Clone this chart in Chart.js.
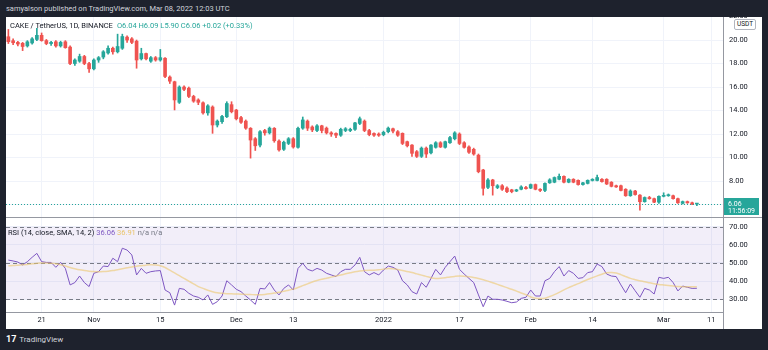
<!DOCTYPE html>
<html>
<head>
<meta charset="utf-8">
<script src="https://cdn.jsdelivr.net/npm/chart.js@4.4.1/dist/chart.umd.min.js"></script>
<style>
  html, body { margin: 0; padding: 0; }
  body { width: 768px; height: 350px; background: #1e222d; position: relative; overflow: hidden; font-family: Roboto, "Noto Sans", sans-serif; }
  .abs { position: absolute; white-space: nowrap; }
  #panel { left: 6px; top: 17px; width: 756px; height: 312px; background: #fff; }
  #header { left: 6px; top: 4px; font-size: 7.5px; color: #d1d4dc; }
  #legend { left: 10px; top: 20.5px; font-size: 7.5px; color: #131722; }
  #legend .v { color: #26a69a; margin-left: 4px; }
  #rsiLegend { left: 8px; top: 228px; font-size: 7.5px; line-height: 9px; color: #131722; }
  #usdt { left: 734px; top: 19px; font-size: 6.5px; color: #131722; border: 1px solid #b2b5be; border-radius: 2px; padding: 0 2px; line-height: 9px; background: #fff; }
  #sep { left: 6px; top: 217px; width: 756px; height: 1px; background: #9598a1; }
  #axisLine { left: 723px; top: 312px; width: 1px; height: 17px; background: #9598a1; }
  #logo { left: 6px; top: 334px; font-size: 8px; color: #d1d4dc; }
  #logo b { font-size: 9px; color: #fff; margin-right: 3px; }
</style>
</head>
<body>
<div id="panel" class="abs"></div>
<div id="header" class="abs">samyalson published on TradingView.com, Mar 08, 2022 12:03 UTC</div>
<canvas id="price" class="abs" width="756" height="200" style="left:6px;top:17px"></canvas>
<canvas id="rsi" class="abs" width="756" height="112" style="left:6px;top:217px"></canvas>
<div id="sep" class="abs"></div>
<div id="axisLine" class="abs"></div>
<div id="legend" class="abs">CAKE / TetherUS, 1D, BINANCE<span class="v">O6.04 H6.09 L5.90 C6.06 +0.02 (+0.33%)</span></div>
<div id="rsiLegend" class="abs">RSI (14, close, SMA, 14, 2) <span style="color:#7e57c2">36.06</span> <span style="color:#e9c46a">36.91</span> <span style="color:#787b86">n/a n/a</span></div>
<div id="usdt" class="abs">USDT</div>
<div id="logo" class="abs"><b>17</b>TradingView</div>
<script>
// дни от 14 окт 2021 до 13 мар 2022 (последняя свеча — 8 марта)
const startDay = new Date(Date.UTC(2021, 9, 14));
const dayCount = 151;
const days = [];
for (let i = 0; i < dayCount; i++) {
  const d = new Date(startDay.getTime() + i * 86400000);
  days.push(d.toISOString().slice(0, 10));
}

// подписи оси времени
const tickDates = ['2021-10-21', '2021-11-01', '2021-11-15', '2021-12-01', '2021-12-13', '2022-01-01', '2022-01-17', '2022-02-01', '2022-02-14', '2022-03-01', '2022-03-11'];
const tickTexts = ['21', 'Nov', '15', 'Dec', '13', '2022', '17', 'Feb', '14', 'Mar', '11'];
const priceTicks = [6, 8, 10, 12, 14, 16, 18, 20, 22];
const rsiTicks = [30, 40, 50, 60, 70];

// свечи CAKE/USDT
const opens = [20.28, 19.94, 19.8, 19.72, 19.5, 19.75, 20.05, 20.4, 19.95, 19.7,
  19.85, 19.5, 19.85, 19.4, 18.0, 18.2, 18.6, 18.0, 17.55, 18.3,
  18.55, 18.9, 19.3, 19.0, 19.3, 20.25, 20.1, 19.9, 18.4, 18.85,
  18.2, 18.5, 18.3, 18.45, 16.85, 16.45, 14.7, 16.0, 15.9, 15.2,
  14.9, 14.66, 13.8, 14.3, 12.77, 13.05, 13.47, 14.5, 14.04, 13.4,
  13.1, 12.49, 11.6, 11.06, 12.3, 12.1, 12.49, 11.4, 10.7, 11.2,
  11.6, 10.87, 12.5, 13.1, 12.6, 12.3, 12.7, 12.5, 12.1, 12.05,
  11.9, 12.3, 12.3, 12.4, 12.9, 13.1, 12.3, 12.05, 12.0, 11.95,
  12.2, 12.45, 12.2, 12.06, 11.35, 11.06, 10.5, 10.1, 10.8, 10.4,
  10.87, 11.26, 10.87, 11.26, 11.6, 12.0, 11.26, 10.9, 10.7, 10.2,
  8.94, 7.46, 8.09, 7.45, 7.6, 7.4, 7.25, 7.15, 7.3, 7.45,
  7.4, 7.7, 7.3, 7.2, 7.85, 7.9, 8.15, 8.4, 7.9, 8.15,
  8.06, 7.7, 7.8, 8.05, 8.05, 8.15, 8.15, 7.9, 7.6, 7.6,
  7.3, 6.75, 7.15, 6.8, 6.24, 6.6, 6.5, 6.2, 6.7, 6.75,
  6.75, 6.5, 6.1, 6.25, 6.15, 6.04];
const highs = [20.9, 20.1, 19.9, 19.8, 19.95, 20.2, 21.0, 20.6, 20.05, 19.9,
  19.95, 19.9, 19.95, 19.5, 18.4, 18.8, 18.7, 18.1, 18.4, 18.6,
  19.1, 19.5, 19.4, 20.5, 20.5, 20.35, 20.2, 20.0, 19.3, 18.9,
  18.6, 18.6, 19.2, 18.5, 16.95, 16.5, 16.1, 16.1, 16.0, 15.3,
  15.0, 14.75, 14.5, 14.4, 13.2, 13.6, 14.75, 14.75, 14.1, 13.5,
  13.2, 12.55, 11.7, 12.3, 12.4, 12.6, 12.55, 11.5, 11.4, 11.7,
  11.7, 12.6, 13.45, 13.2, 12.7, 12.8, 12.75, 12.6, 12.2, 12.1,
  12.5, 12.55, 12.5, 13.0, 13.45, 13.2, 12.4, 12.1, 12.1, 12.25,
  12.6, 12.5, 12.3, 12.1, 11.4, 11.1, 10.6, 10.9, 10.9, 11.1,
  11.35, 11.35, 11.4, 11.8, 12.2, 12.1, 11.35, 11.0, 10.8, 10.3,
  9.0, 8.2, 8.15, 7.7, 7.7, 7.5, 7.3, 7.3, 7.6, 7.55,
  7.75, 7.75, 7.35, 7.85, 8.2, 8.35, 8.6, 8.45, 8.2, 8.2,
  8.1, 7.9, 8.1, 8.2, 8.5, 8.2, 8.2, 7.95, 7.65, 7.65,
  7.35, 7.25, 7.2, 6.85, 6.65, 6.7, 6.55, 6.75, 7.0, 6.9,
  6.8, 6.55, 6.3, 6.3, 6.2, 6.09];
const lows = [19.7, 19.6, 19.5, 19.1, 19.4, 19.65, 19.95, 19.9, 19.6, 19.55,
  19.4, 19.4, 19.3, 17.9, 17.85, 18.1, 17.9, 17.25, 17.45, 18.1,
  18.4, 18.8, 18.8, 18.9, 19.2, 19.8, 19.7, 17.6, 18.3, 18.3,
  18.1, 18.2, 18.2, 16.8, 16.3, 14.05, 14.6, 15.7, 15.1, 14.7,
  14.5, 13.7, 13.6, 12.06, 12.6, 12.9, 13.4, 13.8, 13.2, 12.9,
  12.4, 9.95, 10.6, 10.9, 11.9, 12.0, 11.3, 10.55, 10.6, 11.1,
  10.8, 10.8, 12.4, 12.3, 12.2, 12.2, 12.1, 12.0, 11.8, 11.7,
  11.8, 12.2, 12.2, 12.3, 12.8, 12.2, 11.85, 11.8, 11.8, 11.85,
  12.1, 12.1, 11.8, 11.1, 10.9, 10.1, 10.0, 10.0, 10.0, 10.3,
  10.8, 10.85, 10.8, 11.2, 11.5, 11.1, 10.8, 10.35, 10.2, 8.7,
  6.8, 7.35, 6.8, 7.35, 7.2, 7.0, 7.0, 7.1, 7.25, 7.3,
  7.35, 7.25, 7.1, 7.1, 7.8, 7.85, 8.1, 7.85, 7.85, 7.85,
  7.65, 7.65, 7.75, 8.0, 8.0, 7.9, 7.7, 7.5, 7.45, 7.15,
  6.7, 6.7, 6.8, 5.53, 6.2, 6.45, 6.15, 6.1, 6.65, 6.7,
  6.45, 6.1, 6.05, 6.1, 5.98, 5.90];
const closes = [19.86, 19.77, 19.66, 19.45, 19.85, 20.1, 20.4, 19.95, 19.7, 19.8,
  19.5, 19.8, 19.35, 18.0, 18.3, 18.6, 18.0, 17.55, 18.3, 18.5,
  19.0, 19.3, 19.0, 19.45, 20.3, 20.0, 19.8, 18.3, 18.85, 18.4,
  18.5, 18.3, 18.5, 16.9, 16.5, 14.9, 16.0, 15.8, 15.2, 14.8,
  14.7, 13.8, 14.4, 12.77, 13.1, 13.5, 14.6, 13.9, 13.3, 13.0,
  12.5, 11.49, 11.0, 12.2, 12.1, 12.5, 11.43, 10.65, 11.3, 11.6,
  10.9, 12.49, 13.2, 12.5, 12.35, 12.7, 12.3, 12.1, 12.0, 11.9,
  12.4, 12.45, 12.4, 12.95, 13.3, 12.3, 11.95, 11.9, 11.9, 12.15,
  12.5, 12.25, 11.9, 11.2, 11.0, 10.36, 10.1, 10.8, 10.3, 11.06,
  11.26, 10.9, 11.35, 11.7, 12.1, 11.2, 10.87, 10.45, 10.3, 8.8,
  7.38, 8.09, 7.6, 7.6, 7.3, 7.1, 7.1, 7.25, 7.5, 7.35,
  7.7, 7.3, 7.2, 7.8, 8.1, 8.3, 8.4, 7.9, 8.15, 7.9,
  7.7, 7.85, 8.06, 8.15, 8.3, 7.95, 7.75, 7.55, 7.5, 7.2,
  6.75, 7.15, 6.85, 6.24, 6.6, 6.5, 6.2, 6.7, 6.75, 6.8,
  6.5, 6.15, 6.25, 6.15, 6.04, 6.06];

// RSI(14) и его SMA(14)
const rsiValues = [51.6, 51.1, 50.5, 48.9, 50.7, 53.1, 55.3, 50.7, 50.3, 50.3,
  47.6, 50.3, 47.0, 37.9, 39.2, 42.8, 39.2, 37.0, 44.3, 45.2,
  48.3, 48.0, 52.6, 50.7, 58.1, 57.1, 54.4, 43.4, 47.0, 44.3,
  45.2, 45.6, 45.8, 35.1, 33.6, 26.8, 36.0, 35.5, 33.3, 31.8,
  31.1, 29.6, 32.4, 27.2, 28.7, 31.8, 40.2, 37.9, 35.5, 34.2,
  31.8, 29.6, 27.2, 36.0, 35.7, 39.2, 35.1, 32.4, 36.0, 37.9,
  35.1, 47.0, 49.8, 46.5, 45.6, 47.0, 46.1, 44.3, 43.4, 42.5,
  45.2, 46.5, 46.5, 48.9, 53.1, 45.2, 43.4, 44.7, 43.4, 46.1,
  48.3, 47.6, 46.1, 40.2, 37.9, 34.2, 32.9, 39.2, 36.6, 41.5,
  46.5, 43.4, 47.6, 50.7, 53.8, 46.5, 43.9, 41.5, 39.2, 32.4,
  25.9, 31.8, 30.0, 30.0, 29.6, 28.9, 28.1, 28.5, 30.5, 31.1,
  35.1, 31.8, 31.8, 40.2, 41.5, 45.2, 48.0, 42.8, 45.8, 44.3,
  41.5, 41.9, 44.7, 45.2, 49.4, 48.0, 43.9, 42.8, 42.5, 37.9,
  33.6, 38.4, 34.7, 31.1, 36.0, 35.1, 32.9, 42.1, 41.5, 42.1,
  39.2, 34.6, 37.3, 36.6, 36.0, 36.06];
const rsiSma = [48.5, 48.6, 48.8, 49.0, 49.2, 49.5, 49.8, 50.0, 50.0, 49.8,
  49.5, 49.0, 48.3, 47.5, 46.8, 46.2, 45.8, 45.5, 45.3, 45.2,
  45.3, 45.5, 45.8, 46.3, 46.8, 47.3, 47.8, 48.2, 48.5, 48.8,
  49.0, 48.9, 48.5, 47.5, 46.0, 44.5, 43.0, 41.5, 40.0, 38.5,
  37.0, 36.0, 35.0, 34.2, 33.6, 33.3, 33.1, 33.0, 32.9, 32.8,
  32.7, 32.6, 32.5, 32.5, 32.7, 33.0, 33.4, 33.9, 34.4, 35.0,
  35.6, 36.5, 37.5, 38.5, 39.5, 40.3, 41.0, 41.6, 42.2, 42.8,
  43.4, 44.0, 44.6, 45.2, 45.6, 45.9, 46.0, 46.0, 46.2, 46.6,
  47.0, 46.8, 46.4, 45.9, 45.3, 44.7, 44.0, 43.3, 42.6, 41.9,
  41.5, 41.6, 41.9, 42.3, 42.6, 42.8, 42.7, 42.4, 42.0, 41.5,
  40.8, 40.0, 39.1, 38.2, 37.3, 36.4, 35.5, 34.5, 33.5, 32.5,
  31.3, 30.6, 30.4, 30.6, 31.5, 32.6, 33.8, 35.2, 36.4, 37.5,
  38.6, 39.8, 40.9, 41.9, 42.9, 43.8, 44.6, 44.7, 44.5, 43.6,
  42.5, 41.5, 40.8, 40.2, 39.6, 39.1, 38.6, 38.2, 37.9, 37.6,
  37.3, 37.0, 36.9, 36.9, 36.9, 36.9];

const UP = '#26a69a';
const DOWN = '#ef5350';
const GRID = '#f0f3fa';
const AXIS = '#9598a1';
const tickFont = { family: 'Roboto', size: 7.5 };

const candleColors = closes.map((c, i) => c >= opens[i] ? UP : DOWN);
const wicks = lows.map((l, i) => [l, highs[i]]);
const bodies = opens.map((o, i) => [o, closes[i]]);
const lastClose = closes[closes.length - 1];

// вертикальная сетка только на подписанных датах
const gridAtTicks = ctx => tickDates.includes(days[ctx.index]) ? GRID : 'rgba(0,0,0,0)';

// шкала справа фиксированной ширины, без отступов под подписи
const fitRight = s => { s.width = 39; s.paddingTop = 0; s.paddingBottom = 0; };

// пунктир текущей цены и плашка на шкале
const lastPricePlugin = {
  id: 'lastPrice',
  afterDraw(chart) {
    const { ctx, chartArea, scales } = chart;
    const y = Math.round(scales.y.getPixelForValue(lastClose)) + 0.5;
    ctx.save();
    ctx.strokeStyle = UP;
    ctx.lineWidth = 1;
    ctx.setLineDash([1, 2]);
    ctx.beginPath();
    ctx.moveTo(chartArea.left, y);
    ctx.lineTo(chartArea.right, y);
    ctx.stroke();
    ctx.setLineDash([]);
    ctx.fillStyle = UP;
    ctx.fillRect(chartArea.right + 1, y - 6.5, 35, 17);
    ctx.fillStyle = '#fff';
    ctx.font = '7px Roboto';
    ctx.textBaseline = 'middle';
    ctx.fillText(lastClose.toFixed(2), chartArea.right + 5, y - 0.5);
    ctx.fillText('11:56:09', chartArea.right + 5, y + 7);
    ctx.restore();
  }
};

// зона 30–70 и пунктирные уровни RSI
const rsiBandPlugin = {
  id: 'rsiBand',
  beforeDatasetsDraw(chart) {
    const { ctx, chartArea, scales } = chart;
    const y70 = scales.y.getPixelForValue(70);
    const y50 = scales.y.getPixelForValue(50);
    const y30 = scales.y.getPixelForValue(30);
    ctx.save();
    ctx.fillStyle = 'rgba(126, 87, 194, 0.1)';
    ctx.fillRect(chartArea.left, y70, chartArea.width, y30 - y70);
    ctx.strokeStyle = '#787b86';
    ctx.lineWidth = 1;
    ctx.setLineDash([4, 3]);
    [y70, y50, y30].forEach(y => {
      ctx.beginPath();
      ctx.moveTo(chartArea.left, Math.round(y) + 0.5);
      ctx.lineTo(chartArea.right, Math.round(y) + 0.5);
      ctx.stroke();
    });
    ctx.restore();
  }
};

new Chart(document.getElementById('price'), {
  type: 'bar',
  data: {
    labels: days,
    datasets: [
      { data: wicks, backgroundColor: candleColors, barThickness: 1, grouped: false, order: 2 },
      { data: bodies, backgroundColor: candleColors, barThickness: 3, minBarLength: 1, grouped: false, order: 1 }
    ]
  },
  options: {
    responsive: false,
    animation: false,
    layout: { padding: 0, autoPadding: false },
    plugins: { legend: { display: false }, tooltip: { enabled: false } },
    scales: {
      x: {
        offset: true,
        grid: { offset: false, color: gridAtTicks, drawTicks: false },
        ticks: { display: false, autoSkip: false },
        border: { display: false },
        afterFit: s => { s.height = 0; s.paddingLeft = 0; s.paddingRight = 0; }
      },
      y: {
        position: 'right',
        min: 4.94,
        max: 21.96,
        afterBuildTicks: s => { s.ticks = priceTicks.map(v => ({ value: v })); },
        grid: { color: GRID, drawTicks: false },
        border: { display: true, color: AXIS },
        ticks: { padding: 6, font: tickFont, color: '#131722', callback: v => v.toFixed(2) },
        afterFit: fitRight
      }
    }
  },
  plugins: [lastPricePlugin]
});

new Chart(document.getElementById('rsi'), {
  type: 'line',
  data: {
    labels: days,
    datasets: [
      { data: rsiSma, borderColor: 'rgba(236, 200, 110, 0.6)', borderWidth: 1.5, pointRadius: 0, tension: 0.3 },
      { data: rsiValues, borderColor: '#7e57c2', borderWidth: 1, pointRadius: 0, tension: 0 }
    ]
  },
  options: {
    responsive: false,
    animation: false,
    layout: { padding: 0, autoPadding: false },
    plugins: { legend: { display: false }, tooltip: { enabled: false } },
    scales: {
      x: {
        offset: true,
        grid: { offset: false, color: gridAtTicks, drawTicks: false },
        border: { display: true, color: AXIS },
        ticks: {
          autoSkip: false, maxRotation: 0, minRotation: 0, padding: 4,
          font: tickFont, color: '#131722',
          callback: (v, i) => {
            const k = tickDates.indexOf(days[i]);
            return k >= 0 ? tickTexts[k] : '';
          }
        },
        afterFit: s => { s.height = 17; s.paddingLeft = 0; s.paddingRight = 0; }
      },
      y: {
        position: 'right',
        min: 23,
        max: 75.3,
        afterBuildTicks: s => { s.ticks = rsiTicks.map(v => ({ value: v })); },
        grid: { color: GRID, drawTicks: false },
        border: { display: true, color: AXIS },
        ticks: { padding: 6, font: tickFont, color: '#131722', callback: v => v.toFixed(2) },
        afterFit: fitRight
      }
    }
  },
  plugins: [rsiBandPlugin]
});
</script>
</body>
</html>
